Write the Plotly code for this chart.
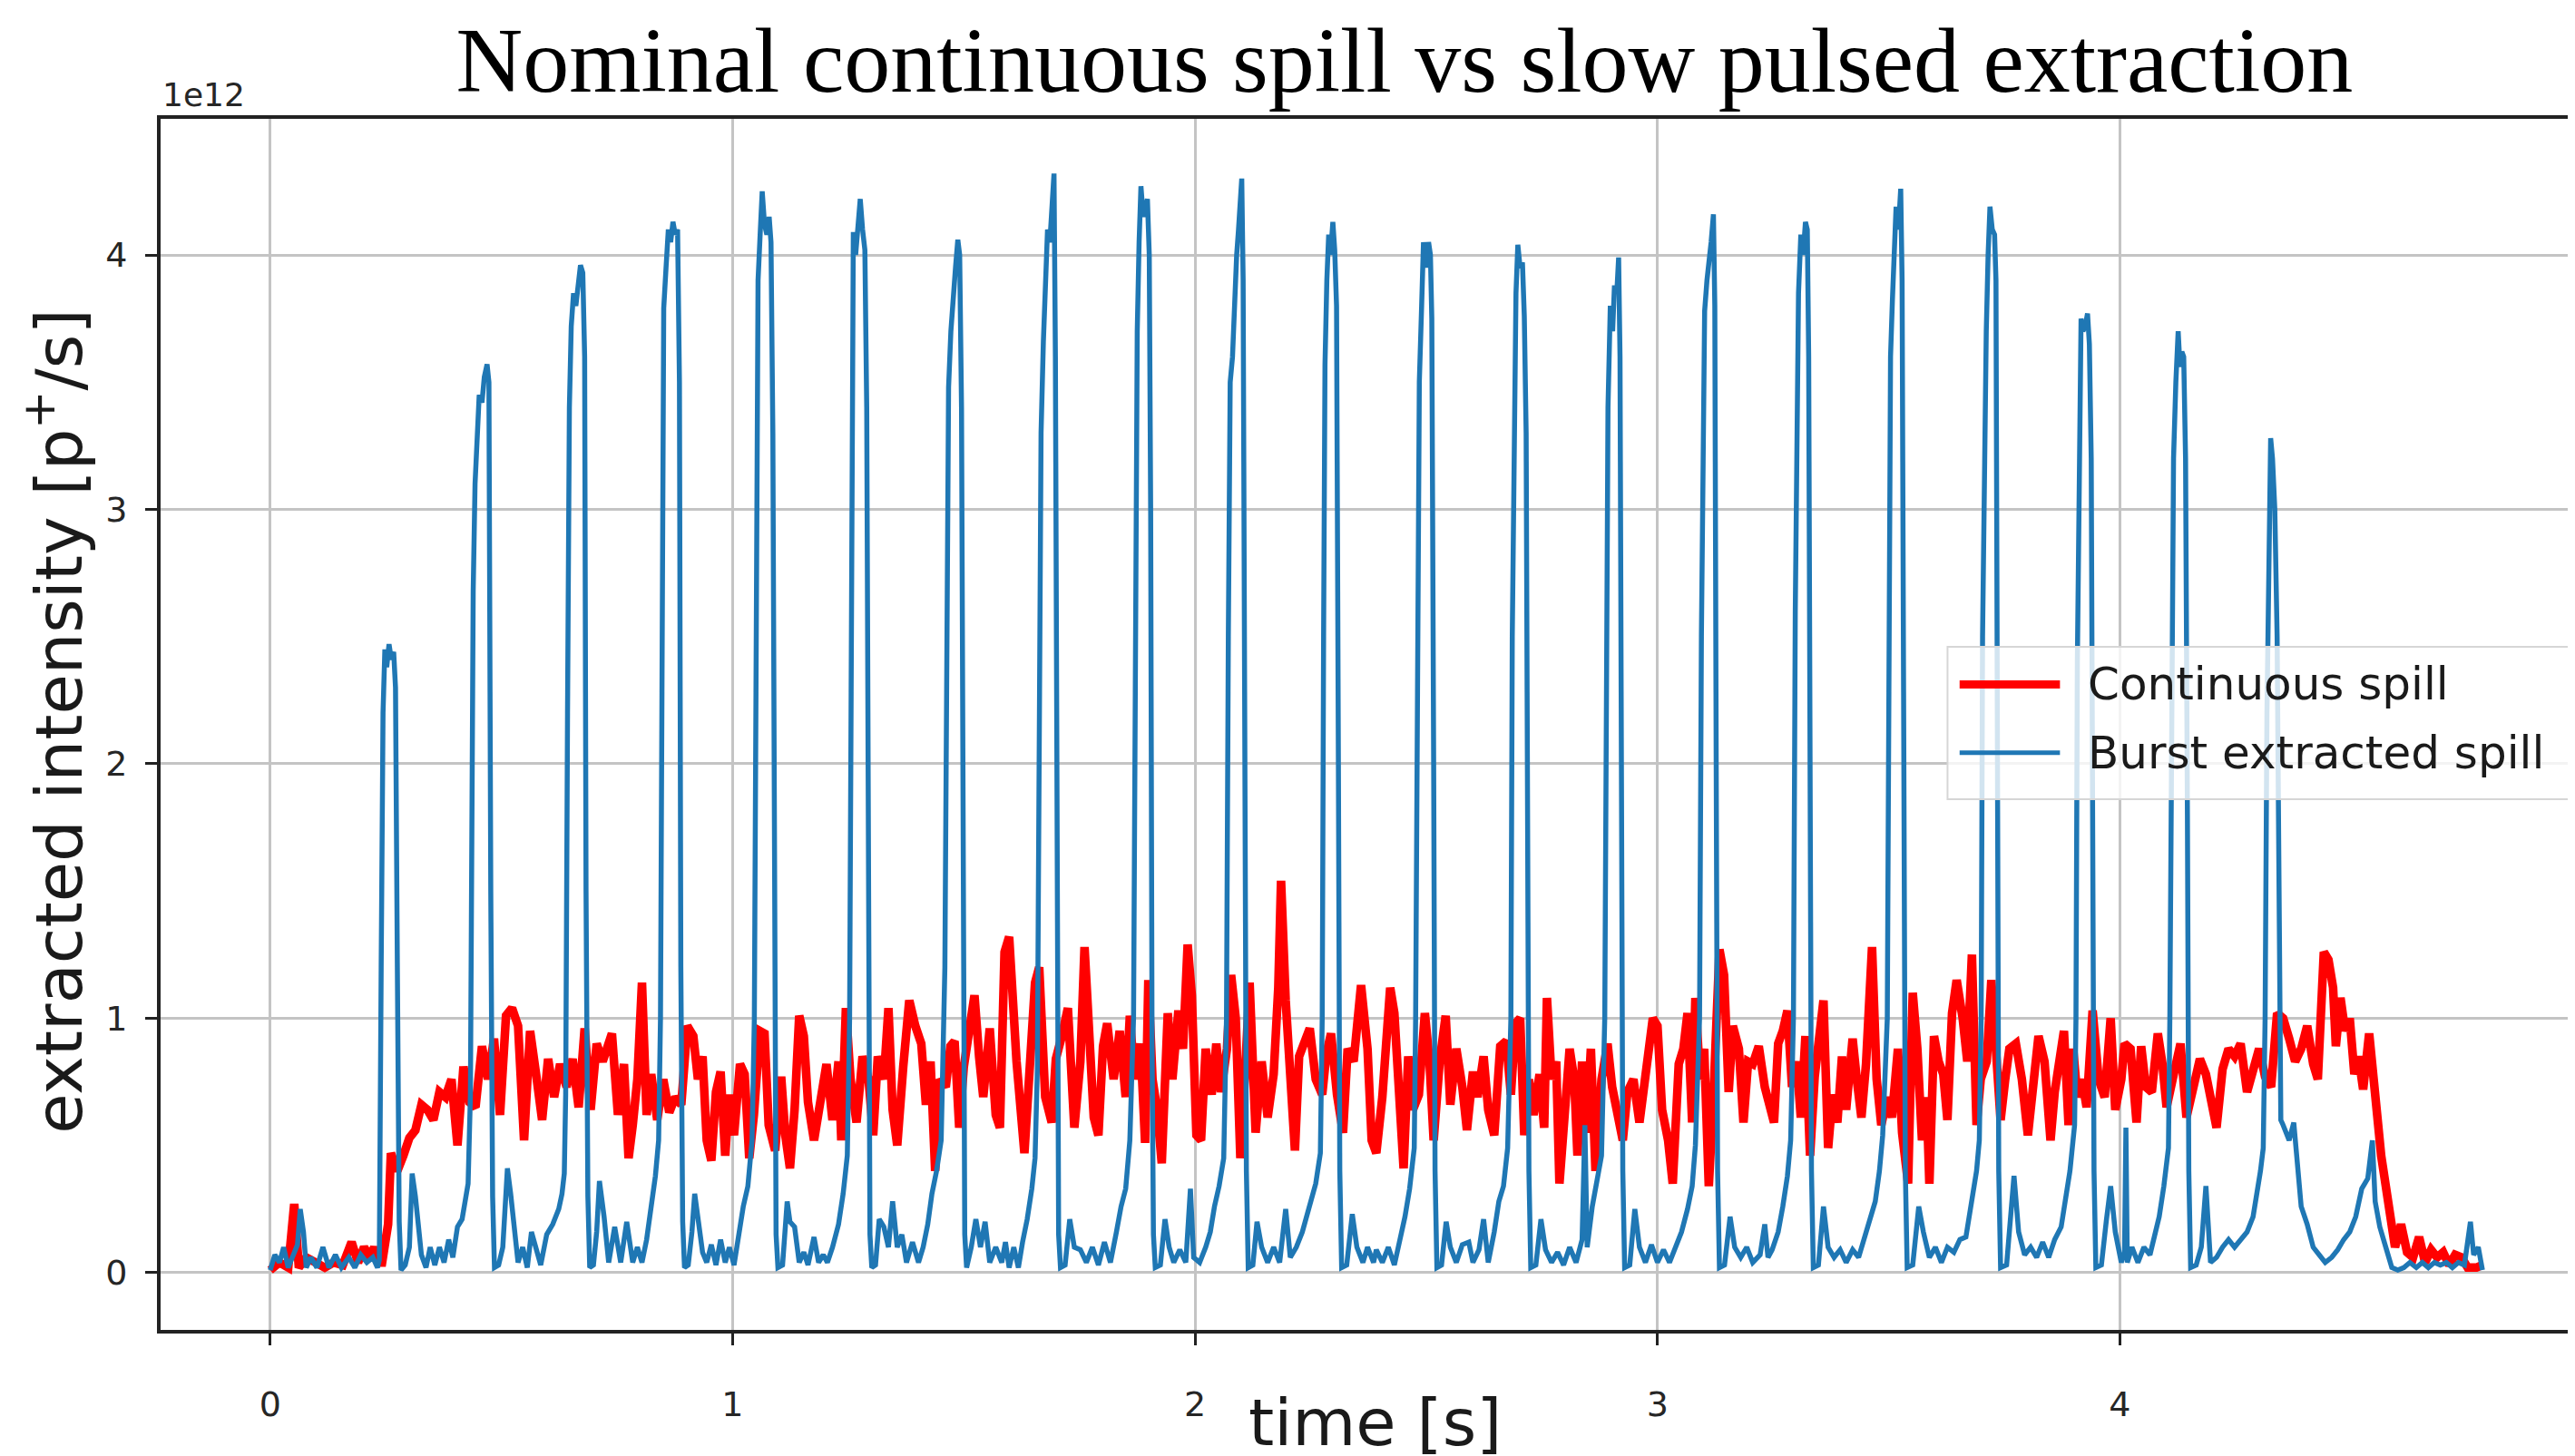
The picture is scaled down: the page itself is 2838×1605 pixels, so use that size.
import plotly.graph_objects as go

title_text = "Nominal continuous spill vs slow pulsed extraction"
x_label = "time [s]"
y_label = "extracted intensity [p<sup>+</sup>/s]"
offset_label = "1e12"
x_ticks = [0, 1, 2, 3, 4, 5]
y_ticks = [0, 1, 2, 3, 4]
series_names = ["Continuous spill", "Burst extracted spill"]

# continuous spill, intensity in units of 1e12 p+/s
continuous_t = [
    0.000, 0.020, 0.039, 0.052, 0.062, 0.078, 0.098, 0.118, 0.137, 0.157,
    0.176, 0.190, 0.203, 0.216, 0.225, 0.235, 0.242, 0.255, 0.261, 0.275,
    0.288, 0.301, 0.314, 0.327, 0.340, 0.353, 0.366, 0.379, 0.392, 0.405,
    0.418, 0.431, 0.444, 0.458, 0.471, 0.484, 0.497, 0.510, 0.523, 0.536,
    0.549, 0.562, 0.575, 0.588, 0.601, 0.614, 0.627, 0.641, 0.654, 0.667,
    0.680, 0.693, 0.706, 0.719, 0.739, 0.752, 0.765, 0.775,
    0.784, 0.794, 0.804, 0.814, 0.824, 0.837, 0.850, 0.863, 0.876, 0.889,
    0.902, 0.915, 0.925, 0.935, 0.944, 0.954, 0.964, 0.974, 0.984, 0.993,
    1.003, 1.016, 1.026, 1.036, 1.046, 1.059, 1.069, 1.078, 1.092, 1.105,
    1.114, 1.124, 1.134, 1.144, 1.154, 1.163, 1.176, 1.190, 1.203, 1.216,
    1.229, 1.235, 1.245, 1.255, 1.268, 1.281, 1.294, 1.304, 1.314, 1.327,
    1.337, 1.346, 1.356, 1.369, 1.382, 1.395, 1.408, 1.418, 1.428, 1.438,
    1.448, 1.461, 1.471, 1.480, 1.490, 1.500, 1.513, 1.523, 1.533, 1.542,
    1.556, 1.569, 1.578, 1.588, 1.598,
    1.614, 1.631, 1.641, 1.654, 1.663, 1.676, 1.690, 1.699, 1.712, 1.725,
    1.739, 1.752, 1.761, 1.771, 1.781, 1.791, 1.801, 1.810, 1.824, 1.837,
    1.850, 1.859, 1.869, 1.882, 1.892, 1.899, 1.908, 1.918, 1.928, 1.941,
    1.951, 1.964, 1.974, 1.984, 1.993, 2.003, 2.013, 2.023, 2.036, 2.046,
    2.056, 2.069, 2.078, 2.088, 2.098, 2.108, 2.118, 2.131, 2.144, 2.157,
    2.170, 2.180, 2.186, 2.196, 2.206, 2.216, 2.225, 2.239, 2.248, 2.261,
    2.275, 2.284, 2.294, 2.307, 2.320, 2.330, 2.343, 2.359, 2.373, 2.382,
    2.392, 2.405,
    2.412, 2.422, 2.431, 2.441, 2.451, 2.461, 2.471, 2.484, 2.497, 2.507,
    2.516, 2.529, 2.542, 2.552, 2.565, 2.578, 2.588, 2.601, 2.611, 2.624,
    2.634, 2.647, 2.660, 2.673, 2.683, 2.693, 2.703, 2.712, 2.722, 2.732,
    2.745, 2.755, 2.761, 2.771, 2.781, 2.788, 2.797, 2.810, 2.820, 2.827,
    2.837, 2.846, 2.856, 2.866, 2.879, 2.892, 2.902, 2.915, 2.925, 2.935,
    2.948, 2.961, 2.971, 2.980, 2.990, 3.000, 3.010, 3.023, 3.033, 3.046,
    3.056, 3.065, 3.075, 3.082, 3.092, 3.101, 3.111, 3.121, 3.134, 3.144,
    3.154, 3.163, 3.176, 3.186, 3.196,
    3.206, 3.219, 3.232, 3.242, 3.252, 3.261, 3.271, 3.281, 3.291, 3.301,
    3.310, 3.320, 3.330, 3.340, 3.350, 3.359, 3.369, 3.379, 3.389, 3.399,
    3.408, 3.422, 3.431, 3.441, 3.451, 3.464, 3.474, 3.484, 3.497, 3.507,
    3.520, 3.529, 3.542, 3.552, 3.562, 3.572, 3.582, 3.588, 3.598, 3.608,
    3.618, 3.627, 3.637, 3.647, 3.660, 3.670, 3.680, 3.690, 3.699, 3.712,
    3.722, 3.732, 3.742, 3.752, 3.761, 3.775, 3.788, 3.801, 3.814, 3.824,
    3.837, 3.850, 3.859, 3.869, 3.879, 3.889, 3.899, 3.908, 3.918, 3.928,
    3.941, 3.954, 3.967, 3.980, 3.990, 4.003,
    4.010, 4.023, 4.036, 4.046, 4.056, 4.069, 4.082, 4.092, 4.101, 4.114,
    4.131, 4.144, 4.157, 4.173, 4.186, 4.196, 4.209, 4.222, 4.235, 4.248,
    4.261, 4.275, 4.288, 4.301, 4.314, 4.327, 4.340, 4.353, 4.366, 4.379,
    4.392, 4.405, 4.418, 4.428, 4.441, 4.451, 4.461, 4.467, 4.477, 4.487,
    4.497, 4.507, 4.516, 4.526, 4.539, 4.549, 4.556, 4.565, 4.575, 4.585,
    4.595, 4.608, 4.621, 4.634, 4.647, 4.660, 4.673, 4.686, 4.699, 4.712,
    4.725, 4.739, 4.752, 4.771, 4.784,
]
continuous_v = [
    0.01, 0.04, 0.02, 0.27, 0.02, 0.06, 0.04, 0.02, 0.04, 0.03,
    0.12, 0.04, 0.10, 0.06, 0.10, 0.04, 0.04, 0.19, 0.47, 0.40,
    0.46, 0.53, 0.56, 0.66, 0.64, 0.60, 0.71, 0.69, 0.76, 0.50,
    0.81, 0.67, 0.65, 0.89, 0.76, 0.92, 0.62, 1.01, 1.04, 0.97,
    0.52, 0.95, 0.78, 0.60, 0.84, 0.69, 0.82, 0.73, 0.84, 0.65,
    0.96, 0.64, 0.90, 0.83, 0.94, 0.62, 0.82, 0.45,
    0.58, 0.76, 1.14, 0.62, 0.78, 0.60, 0.76, 0.63, 0.69, 0.66,
    0.97, 0.93, 0.76, 0.85, 0.52, 0.44, 0.71, 0.79, 0.46, 0.70,
    0.54, 0.82, 0.78, 0.45, 0.62, 0.95, 0.94, 0.58, 0.48, 0.77,
    0.54, 0.41, 0.64, 1.01, 0.93, 0.67, 0.52, 0.69, 0.82, 0.60,
    0.83, 0.52, 1.04, 0.76, 0.59, 0.85, 0.76, 0.54, 0.85, 0.76,
    1.04, 0.64, 0.50, 0.81, 1.07, 0.97, 0.90, 0.66, 0.83, 0.40,
    0.76, 0.73, 0.89, 0.91, 0.57, 0.81, 0.97, 1.09, 0.85, 0.69,
    0.96, 0.62, 0.57, 1.26, 1.32,
    0.83, 0.47, 0.83, 1.14, 1.20, 0.69, 0.59, 0.84, 0.93, 1.04,
    0.57, 0.83, 1.28, 0.88, 0.61, 0.54, 0.89, 0.98, 0.76, 0.95,
    0.69, 1.01, 0.76, 0.90, 0.51, 1.15, 0.76, 0.64, 0.43, 1.02,
    0.76, 1.03, 0.88, 1.29, 1.09, 0.54, 0.52, 0.88, 0.70, 0.90,
    0.71, 0.88, 1.17, 1.00, 0.45, 0.78, 1.14, 0.55, 0.83, 0.61,
    0.78, 1.12, 1.54, 1.07, 0.76, 0.48, 0.85, 0.93, 0.96, 0.76,
    0.70, 0.86, 0.94, 0.70, 0.55, 0.88, 0.83, 1.13, 0.88, 0.52,
    0.47, 0.69,
    0.88, 1.12, 1.02, 0.73, 0.41, 0.85, 0.64, 0.70, 1.02, 0.83,
    0.52, 0.83, 1.01, 0.66, 0.88, 0.73, 0.56, 0.79, 0.69, 0.85,
    0.64, 0.54, 0.89, 0.91, 0.70, 0.98, 1.00, 0.54, 0.76, 0.62,
    0.78, 0.57, 1.08, 0.76, 0.83, 0.35, 0.58, 0.88, 0.76, 0.46,
    0.83, 0.55, 0.88, 0.40, 0.76, 0.90, 0.73, 0.62, 0.52, 0.71,
    0.76, 0.59, 0.73, 0.86, 1.00, 0.97, 0.64, 0.52, 0.35, 0.82,
    0.88, 1.02, 0.59, 1.08, 0.76, 0.88, 0.34, 0.69, 1.27, 1.17,
    0.71, 0.97, 0.88, 0.59, 0.83,
    0.82, 0.89, 0.73, 0.64, 0.59, 0.90, 0.95, 1.03, 0.73, 0.83,
    0.61, 0.93, 0.46, 0.77, 0.96, 1.07, 0.49, 0.70, 0.59, 0.85,
    0.64, 0.92, 0.76, 0.61, 0.82, 1.28, 0.76, 0.58, 0.69, 0.61,
    0.88, 0.55, 0.35, 1.10, 0.88, 0.52, 0.69, 0.35, 0.93, 0.83,
    0.78, 0.60, 1.02, 1.15, 1.00, 0.83, 1.25, 0.58, 0.76, 0.83,
    1.15, 0.83, 0.60, 0.76, 0.88, 0.90, 0.76, 0.54, 0.73, 0.93,
    0.83, 0.52, 0.71, 0.85, 0.95, 0.58, 0.88, 0.69, 0.76, 0.65,
    1.03, 0.76, 0.69, 1.00, 0.64, 0.76,
    0.90, 0.88, 0.59, 0.89, 0.73, 0.71, 0.94, 0.82, 0.65, 0.76,
    0.90, 0.61, 0.73, 0.84, 0.78, 0.69, 0.57, 0.80, 0.88, 0.85,
    0.90, 0.71, 0.80, 0.88, 0.77, 0.73, 1.02, 1.00, 0.92, 0.83,
    0.88, 0.97, 0.82, 0.76, 1.26, 1.23, 1.12, 0.89, 1.08, 0.95,
    1.00, 0.78, 0.85, 0.72, 0.94, 0.76, 0.58, 0.46, 0.34, 0.22,
    0.10, 0.19, 0.08, 0.06, 0.14, 0.04, 0.09, 0.06, 0.08, 0.03,
    0.07, 0.06, 0.02, 0.02, 0.03,
]

# burst extracted spill, intensity in units of 1e12 p+/s
burst_t = [
    0.000, 0.010, 0.020, 0.029, 0.039, 0.049, 0.059, 0.065, 0.072, 0.078, 0.088,
    0.101, 0.114, 0.127, 0.141, 0.154, 0.170, 0.183, 0.196, 0.209, 0.222, 0.232,
    0.236, 0.240, 0.244, 0.248, 0.252, 0.257, 0.262, 0.267, 0.271, 0.275, 0.279, 0.283,
    0.292, 0.301, 0.307, 0.314, 0.320, 0.327, 0.337, 0.346, 0.356, 0.366, 0.376, 0.386, 0.395, 0.405, 0.415, 0.424,
    0.428, 0.433, 0.436, 0.439, 0.443, 0.447, 0.452, 0.458, 0.463, 0.469, 0.473, 0.477, 0.481, 0.485,
    0.494, 0.503, 0.513, 0.520, 0.526, 0.536, 0.546, 0.556, 0.565, 0.575, 0.585, 0.598, 0.611, 0.624, 0.631, 0.636,
    0.639, 0.643, 0.647, 0.651, 0.656, 0.661, 0.666, 0.671, 0.676, 0.680, 0.683, 0.687, 0.691,
    0.699, 0.706, 0.712, 0.722, 0.732, 0.745, 0.758, 0.771, 0.784, 0.794, 0.804, 0.814, 0.820, 0.827, 0.833, 0.840,
    0.844, 0.848, 0.851, 0.856, 0.861, 0.866, 0.871, 0.876, 0.881, 0.885, 0.888, 0.892, 0.896,
    0.904, 0.912, 0.918, 0.925, 0.935, 0.944, 0.954, 0.964, 0.974, 0.984, 0.993, 1.003, 1.013, 1.023, 1.033, 1.042,
    1.047, 1.051, 1.055, 1.060, 1.064, 1.069, 1.074, 1.079, 1.083, 1.087, 1.091, 1.094, 1.098,
    1.108, 1.118, 1.124, 1.134, 1.144, 1.154, 1.163, 1.176, 1.186, 1.196, 1.205, 1.216, 1.229, 1.239, 1.248,
    1.253, 1.257, 1.261, 1.266, 1.271, 1.276, 1.281, 1.286, 1.290, 1.294, 1.297, 1.301,
    1.309, 1.317, 1.327, 1.337, 1.346, 1.356, 1.366, 1.376, 1.389, 1.402, 1.412, 1.422, 1.431, 1.441, 1.451,
    1.459, 1.463, 1.467, 1.472, 1.477, 1.482, 1.487, 1.491, 1.495, 1.499, 1.502, 1.506,
    1.516, 1.526, 1.536, 1.546, 1.556, 1.569, 1.582, 1.590, 1.598, 1.608, 1.618, 1.627, 1.637, 1.647, 1.654,
    1.659, 1.663, 1.667, 1.672, 1.677, 1.681, 1.686, 1.691, 1.695, 1.698, 1.701, 1.705, 1.709,
    1.719, 1.729, 1.739, 1.752, 1.765, 1.778, 1.791, 1.804, 1.817, 1.830, 1.840, 1.850, 1.859,
    1.867, 1.871, 1.875, 1.879, 1.883, 1.888, 1.893, 1.897, 1.901, 1.904, 1.907, 1.910, 1.914,
    1.925, 1.935, 1.944, 1.954, 1.967, 1.980, 1.990, 1.997, 2.010, 2.023, 2.033, 2.042, 2.052, 2.062,
    2.068, 2.072, 2.076, 2.081, 2.085, 2.090, 2.094, 2.098, 2.101, 2.104, 2.108, 2.111, 2.115,
    2.125, 2.134, 2.144, 2.157, 2.170, 2.183, 2.196, 2.206, 2.219, 2.232, 2.242, 2.252, 2.261, 2.271,
    2.275, 2.278, 2.281, 2.285, 2.289, 2.293, 2.298, 2.302, 2.306, 2.310, 2.313, 2.317,
    2.328, 2.340, 2.350, 2.363, 2.373, 2.386, 2.392, 2.405, 2.418, 2.431, 2.444, 2.454, 2.464, 2.474,
    2.477, 2.481, 2.485, 2.490, 2.494, 2.499, 2.505, 2.509, 2.512, 2.516, 2.519, 2.523,
    2.533, 2.543, 2.552, 2.565, 2.578, 2.592, 2.601, 2.614, 2.624, 2.634, 2.647, 2.657, 2.667, 2.676,
    2.683, 2.686, 2.690, 2.694, 2.698, 2.703, 2.708, 2.712, 2.716, 2.719, 2.722, 2.726,
    2.737, 2.748, 2.758, 2.771, 2.784, 2.797, 2.810, 2.824, 2.837, 2.843, 2.848, 2.859, 2.869, 2.879,
    2.886, 2.889, 2.893, 2.898, 2.903, 2.907, 2.912, 2.916, 2.919, 2.922, 2.925, 2.929,
    2.940, 2.951, 2.961, 2.974, 2.987, 3.000, 3.013, 3.026, 3.039, 3.052, 3.065, 3.075, 3.082,
    3.091, 3.095, 3.099, 3.102, 3.107, 3.112, 3.116, 3.121, 3.124, 3.127, 3.130, 3.134,
    3.145, 3.157, 3.167, 3.180, 3.193, 3.206, 3.222, 3.232, 3.239, 3.248, 3.261, 3.271, 3.281, 3.288,
    3.294, 3.298, 3.302, 3.305, 3.310, 3.315, 3.320, 3.324, 3.327, 3.330, 3.333, 3.337,
    3.348, 3.359, 3.369, 3.382, 3.395, 3.408, 3.422, 3.435, 3.448, 3.458, 3.471, 3.480, 3.487,
    3.497, 3.500, 3.504, 3.508, 3.512, 3.516, 3.521, 3.526, 3.529, 3.533, 3.536, 3.540,
    3.552, 3.565, 3.575, 3.588, 3.601, 3.614, 3.627, 3.641, 3.654, 3.667, 3.680, 3.690, 3.696,
    3.700, 3.703, 3.707, 3.711, 3.715, 3.719, 3.724, 3.729, 3.732, 3.735, 3.738, 3.742,
    3.755, 3.771, 3.781, 3.794, 3.807, 3.820, 3.833, 3.846, 3.859, 3.873, 3.882, 3.892, 3.902,
    3.905, 3.908, 3.912, 3.916, 3.920, 3.925, 3.930, 3.934, 3.938, 3.941, 3.944, 3.948,
    3.960, 3.971, 3.980, 3.990, 4.003, 4.010, 4.013, 4.016, 4.026, 4.039, 4.052, 4.065, 4.075, 4.085, 4.095, 4.105,
    4.108, 4.112, 4.116, 4.121, 4.126, 4.130, 4.134, 4.138, 4.142, 4.146, 4.149, 4.153,
    4.165, 4.176, 4.186, 4.196, 4.209, 4.222, 4.235, 4.248, 4.261, 4.275, 4.288, 4.297, 4.304, 4.310,
    4.314, 4.318, 4.322, 4.326, 4.330, 4.335, 4.340, 4.344, 4.348,
    4.353, 4.366, 4.376, 4.386, 4.392, 4.405, 4.418, 4.431, 4.444, 4.458, 4.471, 4.484, 4.497,
    4.510, 4.523, 4.536, 4.546, 4.552, 4.562, 4.575, 4.588, 4.601, 4.614, 4.627, 4.641, 4.654,
    4.667, 4.680, 4.693, 4.706, 4.719, 4.732, 4.745, 4.758, 4.765, 4.775, 4.784,
]
burst_v = [
    0.01, 0.07, 0.04, 0.10, 0.02, 0.06, 0.11, 0.25, 0.16, 0.02, 0.06,
    0.02, 0.10, 0.02, 0.07, 0.02, 0.06, 0.02, 0.07, 0.04, 0.06, 0.02,
    0.05, 1.20, 2.20, 2.45, 2.38, 2.47, 2.41, 2.44, 2.30, 1.20, 0.20, 0.01,
    0.03, 0.10, 0.39, 0.30, 0.18, 0.07, 0.02, 0.10, 0.03, 0.10, 0.04, 0.13, 0.06, 0.18, 0.21, 0.31,
    0.35, 0.70, 2.00, 2.68, 3.10, 3.30, 3.45, 3.42, 3.52, 3.57, 3.50, 1.50, 0.30, 0.02,
    0.03, 0.10, 0.41, 0.31, 0.19, 0.04, 0.10, 0.02, 0.16, 0.09, 0.03, 0.15, 0.19, 0.25, 0.31, 0.39,
    0.70, 2.20, 3.40, 3.72, 3.85, 3.80, 3.90, 3.96, 3.93, 3.60, 1.50, 0.30, 0.02,
    0.03, 0.16, 0.36, 0.22, 0.04, 0.18, 0.04, 0.20, 0.04, 0.10, 0.04, 0.13, 0.21, 0.28, 0.38, 0.52,
    1.00, 2.60, 3.79, 3.95, 4.10, 4.05, 4.13, 4.08, 4.10, 3.50, 1.20, 0.20, 0.02,
    0.03, 0.16, 0.31, 0.22, 0.08, 0.04, 0.11, 0.03, 0.13, 0.04, 0.10, 0.03, 0.14, 0.26, 0.34, 0.52,
    1.00, 2.80, 3.90, 4.10, 4.25, 4.12, 4.08, 4.15, 4.05, 3.30, 1.00, 0.15, 0.02,
    0.03, 0.28, 0.20, 0.18, 0.04, 0.08, 0.03, 0.14, 0.04, 0.07, 0.04, 0.10, 0.19, 0.31, 0.46,
    1.00, 2.80, 4.09, 4.00, 4.15, 4.22, 4.10, 4.02, 3.40, 1.00, 0.15, 0.02,
    0.03, 0.21, 0.18, 0.10, 0.28, 0.10, 0.15, 0.04, 0.12, 0.04, 0.10, 0.19, 0.31, 0.40, 0.52,
    1.20, 2.80, 3.48, 3.70, 3.85, 3.95, 4.06, 4.00, 3.40, 1.00, 0.15, 0.02,
    0.10, 0.21, 0.10, 0.20, 0.04, 0.10, 0.04, 0.12, 0.02, 0.10, 0.02, 0.12, 0.21, 0.33, 0.45,
    0.80, 2.20, 3.30, 3.66, 3.90, 4.10, 4.05, 4.25, 4.32, 3.60, 1.20, 0.15, 0.02,
    0.03, 0.21, 0.10, 0.09, 0.04, 0.10, 0.03, 0.12, 0.04, 0.16, 0.26, 0.33, 0.52,
    1.00, 2.80, 3.70, 4.05, 4.27, 4.15, 4.20, 4.22, 4.00, 3.00, 0.90, 0.15, 0.02,
    0.03, 0.21, 0.10, 0.04, 0.09, 0.04, 0.33, 0.06, 0.04, 0.10, 0.16, 0.26, 0.34, 0.45,
    1.00, 2.50, 3.50, 3.60, 3.80, 4.00, 4.10, 4.20, 4.30, 3.90, 2.00, 0.40, 0.02,
    0.03, 0.20, 0.10, 0.04, 0.10, 0.04, 0.25, 0.06, 0.10, 0.16, 0.22, 0.28, 0.35, 0.47,
    1.00, 2.50, 3.57, 3.90, 4.08, 4.00, 4.13, 4.02, 3.80, 2.00, 0.40, 0.02,
    0.03, 0.23, 0.10, 0.04, 0.10, 0.04, 0.09, 0.04, 0.10, 0.03, 0.13, 0.22, 0.33, 0.49,
    1.00, 2.60, 3.50, 3.80, 4.05, 3.95, 4.05, 4.00, 3.75, 2.00, 0.40, 0.02,
    0.03, 0.20, 0.10, 0.04, 0.11, 0.12, 0.04, 0.09, 0.21, 0.04, 0.16, 0.28, 0.34, 0.49,
    1.00, 2.50, 3.50, 3.85, 4.04, 3.95, 3.97, 3.76, 3.30, 1.80, 0.40, 0.02,
    0.03, 0.21, 0.09, 0.04, 0.08, 0.03, 0.10, 0.04, 0.13, 0.58, 0.10, 0.26, 0.35, 0.46,
    1.00, 2.40, 3.40, 3.80, 3.70, 3.88, 3.85, 3.99, 3.60, 2.00, 0.40, 0.02,
    0.03, 0.25, 0.10, 0.04, 0.11, 0.04, 0.09, 0.04, 0.10, 0.16, 0.25, 0.34, 0.50,
    1.00, 2.50, 3.50, 3.78, 3.90, 3.97, 4.05, 4.16, 3.80, 2.00, 0.40, 0.02,
    0.03, 0.22, 0.10, 0.06, 0.10, 0.04, 0.07, 0.19, 0.06, 0.09, 0.16, 0.26, 0.38, 0.52,
    1.00, 2.60, 3.60, 3.85, 4.08, 4.00, 4.13, 4.10, 3.60, 2.00, 0.40, 0.02,
    0.03, 0.26, 0.10, 0.06, 0.09, 0.04, 0.09, 0.06, 0.14, 0.20, 0.28, 0.40, 0.54,
    1.00, 2.60, 3.60, 3.82, 4.00, 4.19, 4.10, 4.26, 3.90, 2.00, 0.40, 0.02,
    0.03, 0.26, 0.16, 0.06, 0.10, 0.04, 0.10, 0.08, 0.13, 0.14, 0.28, 0.40, 0.52,
    1.00, 2.50, 3.40, 3.70, 4.00, 4.19, 4.10, 4.08, 3.90, 2.00, 0.40, 0.02,
    0.03, 0.38, 0.16, 0.07, 0.10, 0.06, 0.12, 0.06, 0.13, 0.18, 0.28, 0.40, 0.58,
    1.00, 2.40, 3.40, 3.75, 3.70, 3.72, 3.77, 3.65, 3.20, 1.80, 0.40, 0.02,
    0.03, 0.21, 0.34, 0.16, 0.04, 0.08, 0.57, 0.04, 0.10, 0.04, 0.10, 0.07, 0.14, 0.22, 0.34, 0.49,
    1.00, 2.40, 3.20, 3.50, 3.70, 3.56, 3.62, 3.60, 3.20, 1.80, 0.40, 0.02,
    0.03, 0.10, 0.34, 0.04, 0.06, 0.10, 0.13, 0.10, 0.13, 0.16, 0.22, 0.31, 0.40, 0.49,
    1.00, 2.20, 3.00, 3.28, 3.20, 3.00, 2.50, 1.20, 0.60,
    0.58, 0.52, 0.59, 0.40, 0.26, 0.19, 0.10, 0.07, 0.04, 0.06, 0.09, 0.13, 0.16,
    0.22, 0.33, 0.37, 0.52, 0.28, 0.18, 0.10, 0.02, 0.01, 0.02, 0.04, 0.02, 0.04,
    0.02, 0.04, 0.03, 0.04, 0.02, 0.04, 0.03, 0.20, 0.07, 0.10, 0.01,
]

assert len(continuous_t) == len(continuous_v), (len(continuous_t), len(continuous_v))
assert len(burst_t) == len(burst_v), (len(burst_t), len(burst_v))

red = '#ff0000'
blue = '#1f77b4'
sans = 'DejaVu Sans'

fig = go.Figure()

fig.add_trace(go.Scatter(
    x=continuous_t, y=continuous_v, mode='lines', name=series_names[0],
    line=dict(color=red, width=9.5), showlegend=False
))
fig.add_trace(go.Scatter(
    x=burst_t, y=burst_v, mode='lines', name=series_names[1],
    line=dict(color=blue, width=5.5), showlegend=False
))

# legend drawn by hand so the line samples get matplotlib-like length
leg_x0, leg_x1 = 0.7390, 0.9966
leg_y0, leg_y1 = 0.4382, 0.5640
fig.add_shape(type='rect', xref='paper', yref='paper',
              x0=leg_x0, x1=leg_x1, y0=leg_y0, y1=leg_y1,
              fillcolor='rgba(255,255,255,0.8)', line=dict(color='#d6d6d6', width=2))
leg_rows = [(0.5330, red, 9), (0.4765, blue, 5)]
for (yy, col, w), nm in zip(leg_rows, series_names):
    fig.add_shape(type='line', xref='paper', yref='paper',
                  x0=0.7440, x1=0.7855, y0=yy, y1=yy, line=dict(color=col, width=w))
    fig.add_annotation(x=0.7962, y=yy, xref='paper', yref='paper', text=nm,
                       showarrow=False, xanchor='left', yanchor='middle',
                       font=dict(family=sans, size=50, color='#1a1a1a'))

fig.add_annotation(x=0.0, y=1.0202, xref='paper', yref='paper', text=offset_label,
                   showarrow=False, xanchor='left', yanchor='middle',
                   font=dict(family=sans, size=36, color='#262626'))

# axis titles placed as annotations to match the reference spacing
fig.add_annotation(x=0.5024, y=-0.0764, xref='paper', yref='paper', text=x_label,
                   showarrow=False, xanchor='center', yanchor='middle',
                   font=dict(family=sans, size=72, color='#1a1a1a'))
fig.add_annotation(x=-0.0440, y=0.5026, xref='paper', yref='paper', text=y_label,
                   showarrow=False, xanchor='center', yanchor='middle', textangle=-90,
                   font=dict(family=sans, size=72, color='#1a1a1a'))

axis_common = dict(
    showgrid=True, gridcolor='#c4c4c4', gridwidth=2.5,
    zeroline=False, showline=True, linecolor='#222222', linewidth=4, mirror=True,
    ticks='outside', ticklen=13, tickwidth=3, tickcolor='#222222',
    tickfont=dict(family=sans, size=38, color='#262626'),
)

fig.update_layout(
    width=2838, height=1605,
    margin=dict(l=169, r=4, t=123, b=147, autoexpand=False),
    paper_bgcolor='white', plot_bgcolor='white',
    title=dict(text=title_text, x=0.5426, xanchor='center', y=0.9645, yanchor='middle',
               xref='container', yref='container',
               font=dict(family='Liberation Serif', size=102, color='black')),
    xaxis=dict(range=[-0.237, 4.992], tickvals=x_ticks, ticklabelstandoff=32,
               **axis_common),
    yaxis=dict(range=[-0.225, 4.535], tickvals=y_ticks, ticklabelstandoff=12,
               **axis_common),
    showlegend=False,
)

fig.write_html("out.html")
